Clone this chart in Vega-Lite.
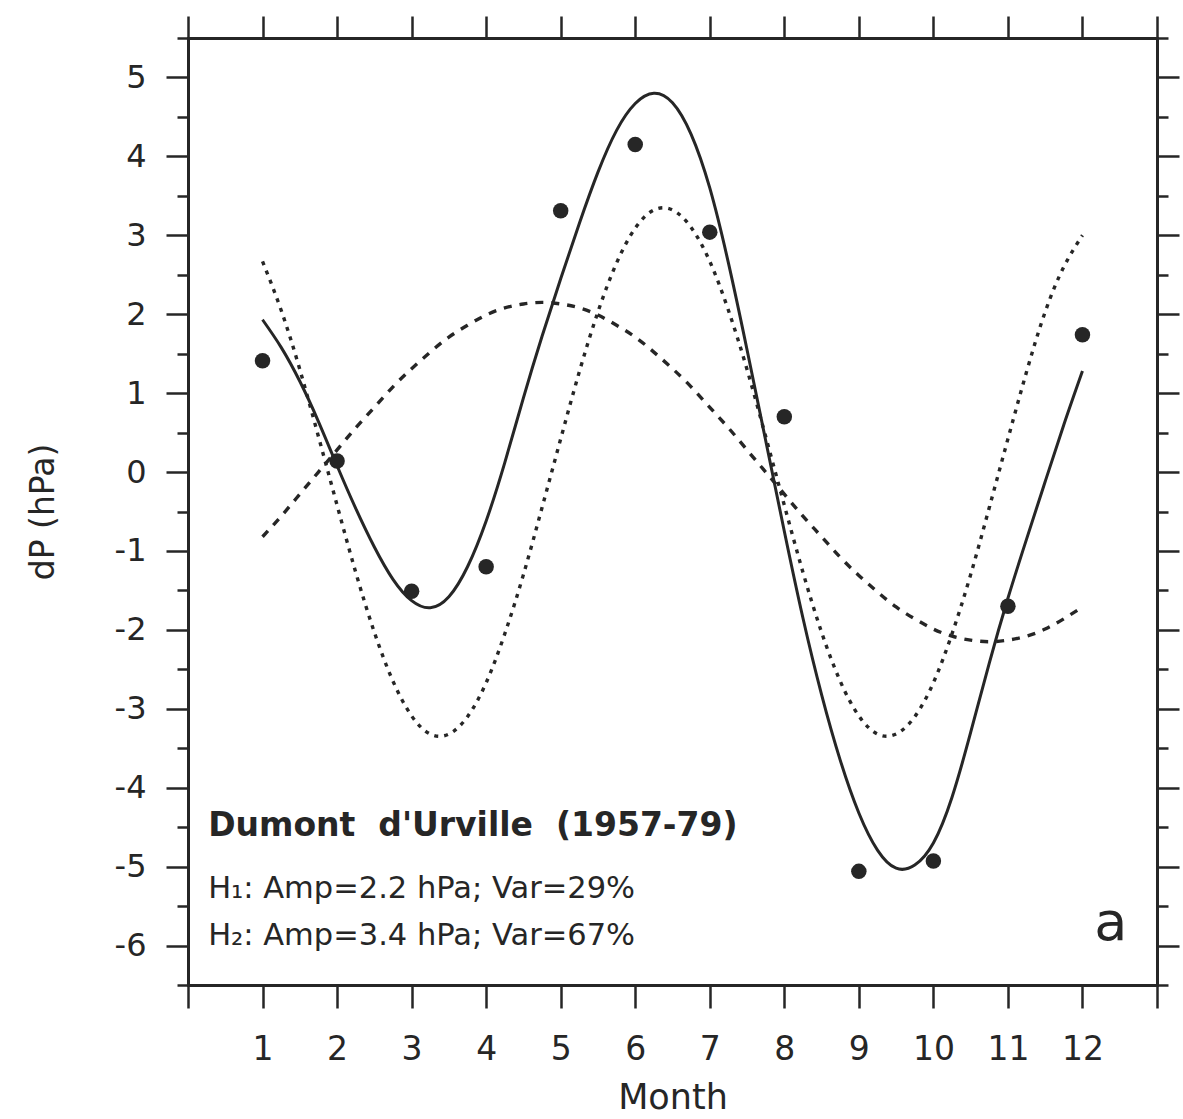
{
  "$schema": "https://vega.github.io/schema/vega-lite/v6.json",
  "width": 969,
  "height": 947,
  "autosize": {"type": "none"},
  "padding": {"left": 188, "top": 38, "right": 26, "bottom": 134},
  "background": "#ffffff",
  "config": {
    "view": {"stroke": null},
    "font": "DejaVu Sans",
    "axis": {
      "domainColor": "#262626",
      "domainWidth": 3,
      "tickColor": "#262626",
      "tickWidth": 2.5,
      "labelColor": "#262626",
      "titleColor": "#262626",
      "labelFont": "DejaVu Sans",
      "titleFont": "DejaVu Sans",
      "titleFontWeight": "normal",
      "grid": false,
      "domainCap": "square"
    }
  },
  "datasets": {
    "obs": [
      {"month": 1, "dP": 1.41},
      {"month": 2, "dP": 0.14},
      {"month": 3, "dP": -1.51},
      {"month": 4, "dP": -1.2},
      {"month": 5, "dP": 3.31},
      {"month": 6, "dP": 4.15},
      {"month": 7, "dP": 3.04},
      {"month": 8, "dP": 0.7},
      {"month": 9, "dP": -5.06},
      {"month": 10, "dP": -4.93},
      {"month": 11, "dP": -1.7},
      {"month": 12, "dP": 1.74}
    ],
    "curves": [
      {"t": 1, "s": 1.93, "h1": -0.82, "h2": 2.67},
      {"t": 1.25, "s": 1.58, "h1": -0.56, "h2": 2.05},
      {"t": 1.5, "s": 1.15, "h1": -0.28, "h2": 1.3},
      {"t": 1.75, "s": 0.64, "h1": 0, "h2": 0.45},
      {"t": 2, "s": 0.08, "h1": 0.28, "h2": -0.42},
      {"t": 2.25, "s": -0.46, "h1": 0.56, "h2": -1.27},
      {"t": 2.5, "s": -0.95, "h1": 0.82, "h2": -2.03},
      {"t": 2.75, "s": -1.36, "h1": 1.08, "h2": -2.65},
      {"t": 3, "s": -1.63, "h1": 1.31, "h2": -3.09},
      {"t": 3.25, "s": -1.72, "h1": 1.52, "h2": -3.32},
      {"t": 3.5, "s": -1.58, "h1": 1.71, "h2": -3.32},
      {"t": 3.75, "s": -1.2, "h1": 1.86, "h2": -3.1},
      {"t": 4, "s": -0.62, "h1": 1.99, "h2": -2.67},
      {"t": 4.25, "s": 0.12, "h1": 2.08, "h2": -2.05},
      {"t": 4.5, "s": 0.94, "h1": 2.13, "h2": -1.3},
      {"t": 4.75, "s": 1.72, "h1": 2.15, "h2": -0.45},
      {"t": 5, "s": 2.45, "h1": 2.13, "h2": 0.42},
      {"t": 5.25, "s": 3.15, "h1": 2.08, "h2": 1.27},
      {"t": 5.5, "s": 3.8, "h1": 1.99, "h2": 2.03},
      {"t": 5.75, "s": 4.33, "h1": 1.86, "h2": 2.65},
      {"t": 6, "s": 4.67, "h1": 1.71, "h2": 3.09},
      {"t": 6.25, "s": 4.8, "h1": 1.52, "h2": 3.32},
      {"t": 6.5, "s": 4.68, "h1": 1.31, "h2": 3.32},
      {"t": 6.75, "s": 4.28, "h1": 1.08, "h2": 3.1},
      {"t": 7, "s": 3.6, "h1": 0.82, "h2": 2.67},
      {"t": 7.25, "s": 2.65, "h1": 0.56, "h2": 2.05},
      {"t": 7.5, "s": 1.55, "h1": 0.28, "h2": 1.3},
      {"t": 7.75, "s": 0.4, "h1": 0, "h2": 0.45},
      {"t": 8, "s": -0.75, "h1": -0.28, "h2": -0.42},
      {"t": 8.25, "s": -1.85, "h1": -0.56, "h2": -1.27},
      {"t": 8.5, "s": -2.82, "h1": -0.82, "h2": -2.03},
      {"t": 8.75, "s": -3.65, "h1": -1.08, "h2": -2.65},
      {"t": 9, "s": -4.32, "h1": -1.31, "h2": -3.09},
      {"t": 9.25, "s": -4.79, "h1": -1.52, "h2": -3.32},
      {"t": 9.5, "s": -5.02, "h1": -1.71, "h2": -3.32},
      {"t": 9.75, "s": -4.98, "h1": -1.86, "h2": -3.1},
      {"t": 10, "s": -4.7, "h1": -1.99, "h2": -2.67},
      {"t": 10.25, "s": -4.12, "h1": -2.08, "h2": -2.05},
      {"t": 10.5, "s": -3.3, "h1": -2.13, "h2": -1.3},
      {"t": 10.75, "s": -2.42, "h1": -2.15, "h2": -0.45},
      {"t": 11, "s": -1.6, "h1": -2.13, "h2": 0.42},
      {"t": 11.25, "s": -0.85, "h1": -2.08, "h2": 1.27},
      {"t": 11.5, "s": -0.12, "h1": -1.99, "h2": 2.03},
      {"t": 11.75, "s": 0.6, "h1": -1.86, "h2": 2.6},
      {"t": 12, "s": 1.28, "h1": -1.71, "h2": 3.0}
    ],
    "title": [
      {"t": 0.27, "v": -4.61, "txt": "Dumont \u00a0d'Urville \u00a0(1957-79)"}
    ],
    "stats": [
      {"t": 0.27, "v": -5.4, "txt": "H\u2081: Amp=2.2 hPa; Var=29%"},
      {"t": 0.27, "v": -5.99, "txt": "H\u2082: Amp=3.4 hPa; Var=67%"}
    ],
    "panel": [
      {"t": 12.38, "v": -5.93, "txt": "a"}
    ]
  },
  "layer": [
    {
      "data": {"name": "curves"},
      "mark": {"type": "line", "color": "#262626", "strokeWidth": 3.4, "strokeDash": [8, 8], "interpolate": "natural"},
      "encoding": {
        "x": {"field": "t", "type": "quantitative", "scale": {"domain": [0, 13], "nice": false, "zero": false},
              "axis": {"orient": "top", "values": [0,1,2,3,4,5,6,7,8,9,10,11,12,13], "labels": false, "tickSize": 22, "title": null}},
        "y": {"field": "h1", "type": "quantitative", "scale": {"domain": [-6.5, 5.5], "nice": false, "zero": false},
              "axis": {"orient": "left", "values": [-6.5,-5.5,-4.5,-3.5,-2.5,-1.5,-0.5,0.5,1.5,2.5,3.5,4.5,5.5], "labels": false, "tickSize": 11, "title": null}}
      }
    },
    {
      "data": {"name": "curves"},
      "mark": {"type": "line", "color": "#262626", "strokeWidth": 3.4, "strokeDash": [4, 6], "interpolate": "natural"},
      "encoding": {
        "x": {"field": "t", "type": "quantitative", "scale": {"domain": [0, 13], "nice": false, "zero": false}, "axis": null},
        "y": {"field": "h2", "type": "quantitative", "scale": {"domain": [-6.5, 5.5], "nice": false, "zero": false},
              "axis": {"orient": "right", "values": [-6.5,-5.5,-4.5,-3.5,-2.5,-1.5,-0.5,0.5,1.5,2.5,3.5,4.5,5.5], "labels": false, "tickSize": 11, "title": null}}
      }
    },
    {
      "data": {"name": "curves"},
      "mark": {"type": "line", "color": "#262626", "strokeWidth": 3, "interpolate": "natural"},
      "encoding": {
        "x": {"field": "t", "type": "quantitative", "scale": {"domain": [0, 13], "nice": false, "zero": false}, "axis": null},
        "y": {"field": "s", "type": "quantitative", "scale": {"domain": [-6.5, 5.5], "nice": false, "zero": false},
              "axis": {"orient": "right", "values": [-6,-5,-4,-3,-2,-1,0,1,2,3,4,5], "labels": false, "tickSize": 22, "title": null}}
      }
    },
    {
      "data": {"name": "obs"},
      "mark": {"type": "circle", "color": "#262626", "size": 240, "opacity": 1},
      "encoding": {
        "x": {"field": "month", "type": "quantitative", "scale": {"domain": [0, 13], "nice": false, "zero": false},
              "axis": {"orient": "bottom", "values": [0,1,2,3,4,5,6,7,8,9,10,11,12,13], "tickSize": 23,
                       "labelExpr": "datum.value >= 1 && datum.value <= 12 ? '' + datum.value : ''",
                       "labelFontSize": 33, "labelPadding": 25, "labelFlush": false, "labelOverlap": false,
                       "title": "Month", "titleFontSize": 35, "titlePadding": 14}},
        "y": {"field": "dP", "type": "quantitative", "scale": {"domain": [-6.5, 5.5], "nice": false, "zero": false},
              "axis": {"orient": "left", "values": [-6,-5,-4,-3,-2,-1,0,1,2,3,4,5], "tickSize": 22,
                       "labelExpr": "'' + datum.value", "labelFontSize": 32, "labelPadding": 20, "labelFlush": false, "labelOverlap": false,
                       "title": "dP (hPa)", "titleFontSize": 33, "titlePadding": 54}}
      }
    },
    {
      "data": {"name": "title"},
      "mark": {"type": "text", "align": "left", "baseline": "alphabetic", "fontSize": 33, "fontWeight": "bold", "color": "#262626", "font": "DejaVu Sans"},
      "encoding": {
        "x": {"field": "t", "type": "quantitative", "scale": {"domain": [0, 13], "nice": false, "zero": false}, "axis": null},
        "y": {"field": "v", "type": "quantitative", "scale": {"domain": [-6.5, 5.5], "nice": false, "zero": false}, "axis": null},
        "text": {"field": "txt"}
      }
    },
    {
      "data": {"name": "stats"},
      "mark": {"type": "text", "align": "left", "baseline": "alphabetic", "fontSize": 30.5, "color": "#262626", "font": "DejaVu Sans"},
      "encoding": {
        "x": {"field": "t", "type": "quantitative", "scale": {"domain": [0, 13], "nice": false, "zero": false}, "axis": null},
        "y": {"field": "v", "type": "quantitative", "scale": {"domain": [-6.5, 5.5], "nice": false, "zero": false}, "axis": null},
        "text": {"field": "txt"}
      }
    },
    {
      "data": {"name": "panel"},
      "mark": {"type": "text", "align": "center", "baseline": "alphabetic", "fontSize": 54, "color": "#262626", "font": "DejaVu Sans"},
      "encoding": {
        "x": {"field": "t", "type": "quantitative", "scale": {"domain": [0, 13], "nice": false, "zero": false}, "axis": null},
        "y": {"field": "v", "type": "quantitative", "scale": {"domain": [-6.5, 5.5], "nice": false, "zero": false}, "axis": null},
        "text": {"field": "txt"}
      }
    }
  ],
  "resolve": {"axis": {"x": "independent", "y": "independent"}}
}
